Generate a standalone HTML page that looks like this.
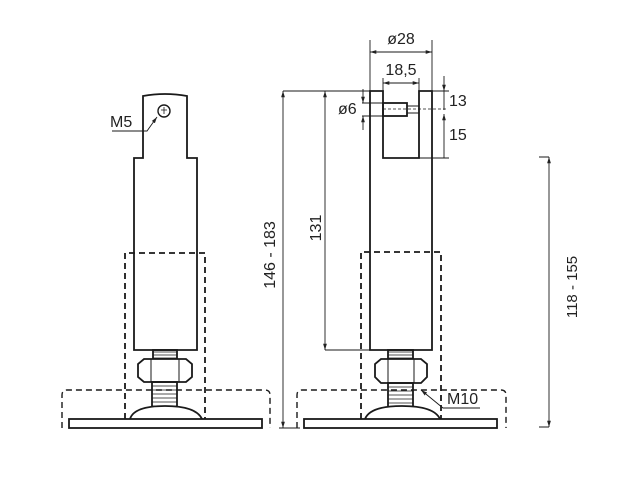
<!DOCTYPE html>
<html><head><meta charset="utf-8"><style>html,body{margin:0;padding:0;background:#fff}</style></head><body>
<svg width="624" height="482" viewBox="0 0 624 482" xmlns="http://www.w3.org/2000/svg" font-family="Liberation Sans, sans-serif" fill="none" stroke="#1a1a1a">
<defs>
<marker id="a" viewBox="0 0 10 10" refX="10" refY="5" markerWidth="7" markerHeight="7" orient="auto-start-reverse"><path d="M0,2 L10,5 L0,8 z" fill="#222" stroke="none"/></marker>
</defs>
<g stroke-width="1.8">
<!-- LEFT VIEW -->
<path d="M143,158 V96 Q165,92 187,96 V158 H197 V350 H134 V158 Z" fill="#fff"/>
<circle cx="164" cy="111" r="6" stroke-width="1.4"/>
<path d="M161,110 h6 M164,107 v7" stroke-width="0.8"/>
<path d="M112,131 H147 L157,117" stroke-width="0.9" marker-end="url(#a)"/>
<text x="110" y="127" font-size="16" fill="#222" stroke="none">M5</text>
<rect x="153" y="350" width="24" height="9"/>
<path d="M153,352h24M153,355h24M153,358h24" stroke-width="0.8"/>
<path d="M144,359 H186 L192,364 V377 L186,382 H144 L138,377 V364 Z" fill="#fff"/>
<path d="M151,359 V382 M179,359 V382" stroke-width="1"/>
<rect x="152" y="382" width="25" height="26"/>
<path d="M152,386h25M152,390h25M152,394h25M152,398h25M152,402h25M152,406h25" stroke-width="0.8"/>
<path d="M130,419 Q134,406 165,406 Q196,406 202,419" fill="#fff"/>
<rect x="69" y="419" width="193" height="9" fill="#fff"/>
<path d="M125,419 V253 H205 V419" stroke-dasharray="6,4"/>
<path d="M62,428 V395 Q62,390 67,390 H265 Q270,390 270,395 V428" stroke-dasharray="6,4" stroke-width="1.4"/>

<!-- dims middle -->
<path d="M283,91 V428" stroke-width="0.9" marker-start="url(#a)" marker-end="url(#a)"/>
<path d="M283,91 H370 M279,428 H300" stroke-width="0.9"/>
<text transform="translate(275,255) rotate(-90)" text-anchor="middle" font-size="16" fill="#222" stroke="none">146 - 183</text>
<path d="M325,91 V350" stroke-width="0.9" marker-start="url(#a)" marker-end="url(#a)"/>
<path d="M325,350 H370" stroke-width="0.9"/>
<text transform="translate(321,228) rotate(-90)" text-anchor="middle" font-size="16" fill="#222" stroke="none">131</text>

<!-- RIGHT VIEW -->
<path d="M370,91 H383 V158 H419 V91 H432 V350 H370 Z" fill="#fff"/>
<rect x="383" y="103" width="24" height="13"/>
<rect x="407" y="106" width="12" height="7" stroke-width="1"/>
<path d="M383,109 H448" stroke-width="0.8" stroke-dasharray="3,2"/>
<rect x="388" y="350" width="25" height="9"/>
<path d="M388,352h25M388,355h25M388,358h25" stroke-width="0.8"/>
<path d="M381,359 H421 L427,364 V377 L421,383 H381 L375,377 V364 Z" fill="#fff"/>
<path d="M388,359 V383 M414,359 V383" stroke-width="1"/>
<rect x="388" y="383" width="25" height="25"/>
<path d="M388,387h25M388,391h25M388,395h25M388,399h25M388,403h25" stroke-width="0.8"/>
<path d="M365,419 Q370,406 402,406 Q434,406 440,419" fill="#fff"/>
<rect x="304" y="419" width="193" height="9" fill="#fff"/>
<path d="M361,419 V252 H441 V419" stroke-dasharray="6,4"/>
<path d="M297,428 V395 Q297,390 302,390 H501 Q506,390 506,395 V428" stroke-dasharray="6,4" stroke-width="1.4"/>
<path d="M480,408 H443 L421,390" stroke-width="0.9" marker-end="url(#a)"/>
<text x="447" y="404" font-size="16" fill="#222" stroke="none">M10</text>

<!-- top dims -->
<path d="M370,40 V91 M432,40 V91 M383,78 V91 M419,78 V91" stroke-width="0.9"/>
<path d="M370,52 H432" stroke-width="0.9" marker-start="url(#a)" marker-end="url(#a)"/>
<text x="401" y="44" text-anchor="middle" font-size="16" fill="#222" stroke="none">ø28</text>
<path d="M383,83 H419" stroke-width="0.9" marker-start="url(#a)" marker-end="url(#a)"/>
<text x="401" y="75" text-anchor="middle" font-size="16" fill="#222" stroke="none">18,5</text>
<path d="M419,91 H449 M419,158 H449" stroke-width="0.9"/>
<path d="M444,76 V91" stroke-width="0.9" marker-end="url(#a)"/>
<path d="M444,91 V110" stroke-width="0.9"/>
<path d="M444,114 V158" stroke-width="0.9" marker-start="url(#a)"/>
<text x="449" y="106" font-size="16" fill="#222" stroke="none">13</text>
<text x="449" y="140" font-size="16" fill="#222" stroke="none">15</text>
<path d="M362,103 H383 M362,116 H383" stroke-width="0.9"/>
<path d="M363,89 V103" stroke-width="0.9" marker-end="url(#a)"/>
<path d="M363,130 V116" stroke-width="0.9" marker-end="url(#a)"/>
<text x="338" y="114" font-size="16" fill="#222" stroke="none">ø6</text>

<!-- right dim -->
<path d="M549,157 V427" stroke-width="0.9" marker-start="url(#a)" marker-end="url(#a)"/>
<path d="M539,157 H549 M539,427 H549" stroke-width="0.9"/>
<text transform="translate(577,287) rotate(-90)" text-anchor="middle" font-size="15" fill="#222" stroke="none">118 - 155</text>
</g>
</svg>
</body></html>
